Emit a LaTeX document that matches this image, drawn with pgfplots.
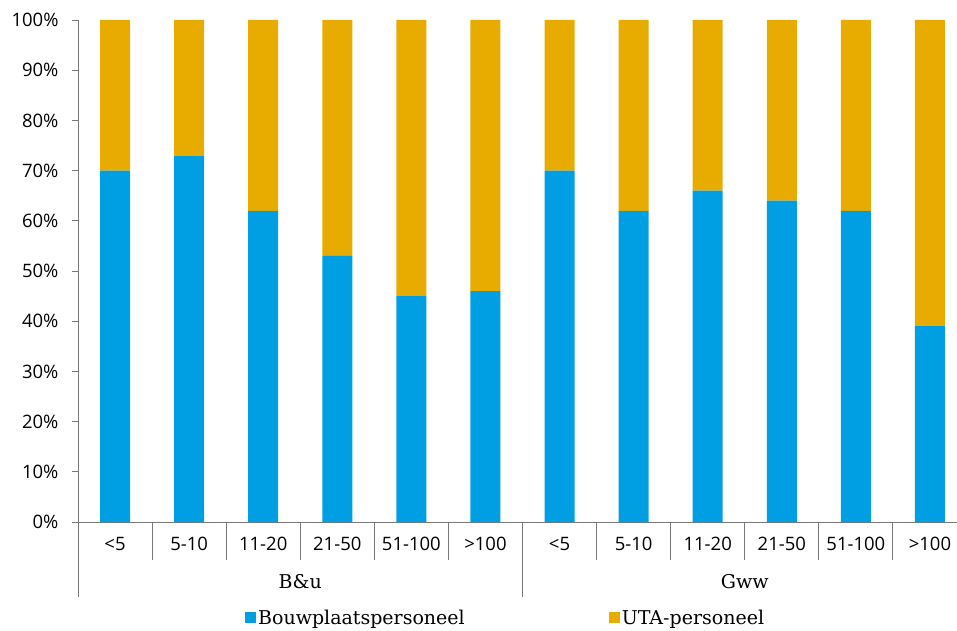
\documentclass[border=0pt]{standalone}
\usepackage{pgfplots}
\pgfplotsset{compat=1.18}
\usepackage{fontspec}
\setmainfont{DejaVu Serif}
\newfontfamily\sansf{Open Sans}
\definecolor{cblue}{RGB}{0,159,227}
\definecolor{corange}{RGB}{232,172,0}
\definecolor{axgray}{RGB}{120,120,120}
\begin{document}
\begin{tikzpicture}
\begin{axis}[
  scale only axis, width=889pt, height=502pt, clip=false,
  ybar stacked, bar width=30pt,
  xmin=-0.5, xmax=11.5, ymin=0, ymax=100,
  axis x line*=bottom, axis y line*=left,
  axis line style={axgray, line width=0.9pt},
  every outer x axis line/.append style={-},
  every outer y axis line/.append style={-},
  ytick={0,10,...,100},
  yticklabel={\pgfmathprintnumber{\tick}\%},
  /pgf/number format/assume math mode=true,
  ytick style={axgray, line width=0.9pt},
  tick align=outside, major tick length=6pt,
  yticklabel style={font=\sansf\fontsize{18.5}{20}\selectfont, text=black, xshift=-10pt},
  xtick={0,...,11},
  xticklabels={<5,5-10,11-20,21-50,51-100,>100,<5,5-10,11-20,21-50,51-100,>100},
  xtick style={draw=none},
  xticklabel style={font=\sansf\fontsize{18.5}{20}\selectfont, text=black, yshift=-6pt},
  legend style={at={(0.481,-0.191)}, anchor=center, draw=none, fill=none,
    legend columns=2, font=\fontsize{19}{21}\selectfont,
    /tikz/every even column/.append style={column sep=142pt}},
  legend image code/.code={\fill[#1] (0pt,-5pt) rectangle (11pt,6pt);},
]
\addplot[fill=cblue, draw=none] coordinates {
(0,70) (1,73) (2,62) (3,53) (4,45) (5,46)
(6,70) (7,62) (8,66) (9,64) (10,62) (11,39)};
\addlegendentry{Bouwplaatspersoneel}
\addplot[fill=corange, draw=none] coordinates {
(0,30) (1,27) (2,38) (3,47) (4,55) (5,54)
(6,30) (7,38) (8,34) (9,36) (10,38) (11,61)};
\addlegendentry{UTA-personeel}
\foreach \s in {0.5,1.5,2.5,3.5,4.5,6.5,7.5,8.5,9.5,10.5} {
  \edef\tmp{\noexpand\draw[axgray, line width=0.9pt] (axis cs:\s,0) -- ([yshift=-38pt]axis cs:\s,0);}\tmp
}
\foreach \s in {-0.5,5.5,11.5} {
  \edef\tmp{\noexpand\draw[axgray, line width=0.9pt] (axis cs:\s,0) -- ([yshift=-75pt]axis cs:\s,0);}\tmp
}
\node[font=\fontsize{19}{21}\selectfont] at (axis cs:2.5,0) [yshift=-60pt] {B\&u};
\node[font=\fontsize{19}{21}\selectfont] at (axis cs:8.5,0) [yshift=-60pt] {Gww};
\coordinate (sw) at (rel axis cs:0,0);
\coordinate (ne) at (rel axis cs:1,1);
\end{axis}
\pgfresetboundingbox
\path[use as bounding box] ([xshift=-78pt,yshift=-108pt]sw) rectangle ([xshift=-10pt,yshift=20pt]ne);
\end{tikzpicture}
\end{document}
